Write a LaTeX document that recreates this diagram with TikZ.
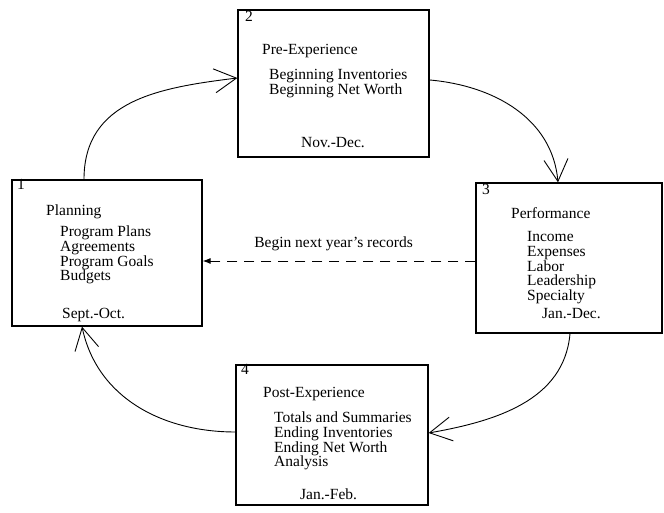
\documentclass[tikz,border=0pt]{standalone}
\usepackage{fontspec}
\setmainfont{Liberation Serif}
\usetikzlibrary{arrows.meta}

\begin{document}
\begin{tikzpicture}[x=1pt,y=1pt,font=\fontsize{15.5}{14.6}\selectfont,>={Straight Barb[length=22pt,width=24pt]}]
\tikzstyle{phase}=[draw,line width=1.3pt,inner sep=0pt]
\tikzstyle{txt}=[anchor=base west,inner sep=0pt,align=left]
\tikzstyle{flow}=[line width=0.9pt]
\useasboundingbox (0,0) rectangle (664,513);
\node[phase,minimum width=190pt,minimum height=146pt](Plan) at (107,260) {};
\node[phase,minimum width=191pt,minimum height=147pt](Pre) at (333.5,429.5) {};
\node[phase,minimum width=186pt,minimum height=150pt](Perf) at (569,255) {};
\node[phase,minimum width=192pt,minimum height=140pt](Post) at (332,78) {};

\node[txt](n1) at (17,323) {1};
\node[txt](Plant) at (46,297) {Planning};
\node[txt](Planl) at (60,232.2) {Program Plans\\Agreements\\Program Goals\\Budgets};
\node[txt](Pland) at (62,194) {Sept.-Oct.};

\node[txt](n2) at (245,491) {2};
\node[txt](Pret) at (262,458) {Pre-Experience};
\node[txt](Prel) at (269,418.4) {Beginning Inventories\\Beginning Net Worth};
\node[txt](Pred) at (301,365) {Nov.-Dec.};

\node[txt](n3) at (482,318) {3};
\node[txt](Perft) at (511,294) {Performance};
\node[txt](Perfl) at (527,212.6) {Income\\Expenses\\Labor\\Leadership\\Specialty};
\node[txt](Perfd) at (542,194) {Jan.-Dec.};

\node[txt](n4) at (241,138) {4};
\node[txt](Postt) at (263,115) {Post-Experience};
\node[txt](Postl) at (274,46.2) {Totals and Summaries\\Ending Inventories\\Ending Net Worth\\Analysis};
\node[txt](Postd) at (300,13) {Jan.-Feb.};

\draw[flow,->] ([xshift=-23pt]Plan.north) to[out=90,in=187,looseness=1.1] ([yshift=5.5pt]Pre.west);
\draw[flow,->] ([yshift=3.5pt]Pre.east) to[out=-5,in=95] ([xshift=-11pt]Perf.north);
\draw[flow,->] ([xshift=1pt]Perf.south) to[out=-95,in=10] ([yshift=2pt]Post.east);
\draw[flow,->] ([yshift=3pt]Post.west) to[out=180,in=-78] ([xshift=-25pt]Plan.south);
\draw[flow,dash pattern=on 10pt off 7pt,-{Latex[length=8pt,width=6pt]}] ([yshift=-3pt]Perf.west) -- node[pos=0.52,above=6pt](rec){Begin next year's records} ([yshift=-8pt]Plan.east);
\end{tikzpicture}
\end{document}
